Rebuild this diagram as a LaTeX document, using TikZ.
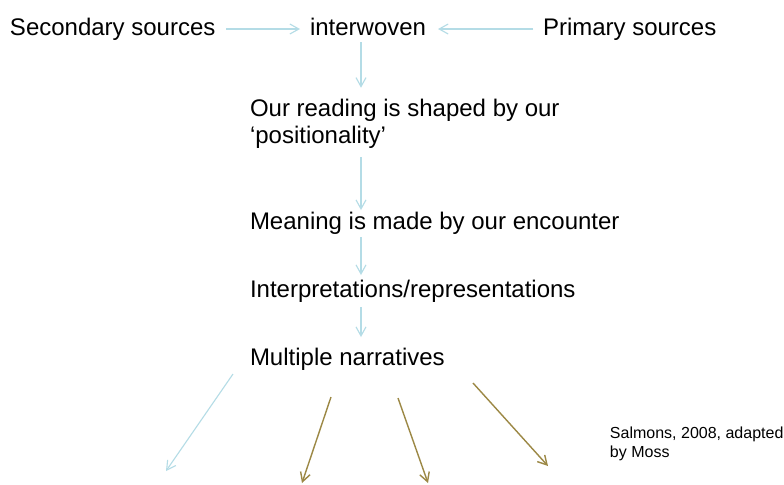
\documentclass[tikz,border=0pt]{standalone}
\usepackage{fontspec}
\setmainfont{Liberation Sans}
\usetikzlibrary{arrows.meta,calc}
\definecolor{flowblue}{HTML}{B4DCE6}
\definecolor{flowbrown}{HTML}{9C8845}
\tikzset{
  lbl/.style={inner sep=0pt, outer sep=0pt, anchor=base west, font=\fontsize{12pt}{14pt}\selectfont},
  note/.style={inner sep=0pt, outer sep=0pt, anchor=north west, align=left, font=\fontsize{8pt}{9.5pt}\selectfont},
  blueflow/.style={draw=flowblue, line width=0.55pt, -{Straight Barb[length=4.5pt,width=5pt]}},
  brownflow/.style={draw=flowbrown, line width=0.7pt, -{Straight Barb[length=4.5pt,width=5pt]}}
}
\begin{document}
\begin{tikzpicture}[x=0.5pt,y=-0.5pt]
\useasboundingbox (0,0) rectangle (784,484);
\fill[white] (0,0) rectangle (784,484);
\coordinate (ax) at (361,0);
% labels
\node[lbl] (sec) at (10,35) {Secondary sources};
\node[lbl] (inter) at (310,35) {interwoven};
\node[lbl] (prim) at (543,35) {Primary sources};
\node[lbl] (read1) at (250,116.7) {Our reading is shaped by our};
\node[lbl] (read2) at (250,143.5) {‘positionality’};
\node[lbl] (mean) at (250,229.3) {Meaning is made by our encounter};
\node[lbl] (interp) at (250,297) {Interpretations/representations};
\node[lbl] (multi) at (250,365) {Multiple narratives};
\node[note] (src) at (610,427) {Salmons, 2008, adapted\\by Moss};
% top connectors
\draw[blueflow] ($(sec.base east)+(11,-6)$) -- ($(inter.base west)+(-10,-6)$);
\draw[blueflow] ($(prim.base west)+(-10,-6)$) -- ($(inter.base east)+(12,-6)$);
% vertical chain
\draw[blueflow] ($(inter.base -| ax)+(0,7)$) -- ($(read1.base -| ax)+(0,-29)$);
\draw[blueflow] ($(read2.base -| ax)+(0,13.5)$) -- ($(mean.base -| ax)+(0,-19.3)$);
\draw[blueflow] ($(mean.base -| ax)+(0,7.7)$) -- ($(interp.base -| ax)+(0,-22)$);
\draw[blueflow] ($(interp.base -| ax)+(0,10)$) -- ($(multi.base -| ax)+(0,-28)$);
% fan-out from multiple narratives
\coordinate (n1s) at (233,374);
\coordinate (n1e) at (166,471);
\coordinate (n2s) at (331,397);
\coordinate (n2e) at (302,483);
\coordinate (n3s) at (398,398);
\coordinate (n3e) at (428,483);
\coordinate (n4s) at (473,383);
\coordinate (n4e) at (548,466);
\draw[blueflow] (n1s) -- (n1e);
\draw[brownflow] (n2s) -- (n2e);
\draw[brownflow] (n3s) -- (n3e);
\draw[brownflow] (n4s) -- (n4e);
\end{tikzpicture}
\end{document}
